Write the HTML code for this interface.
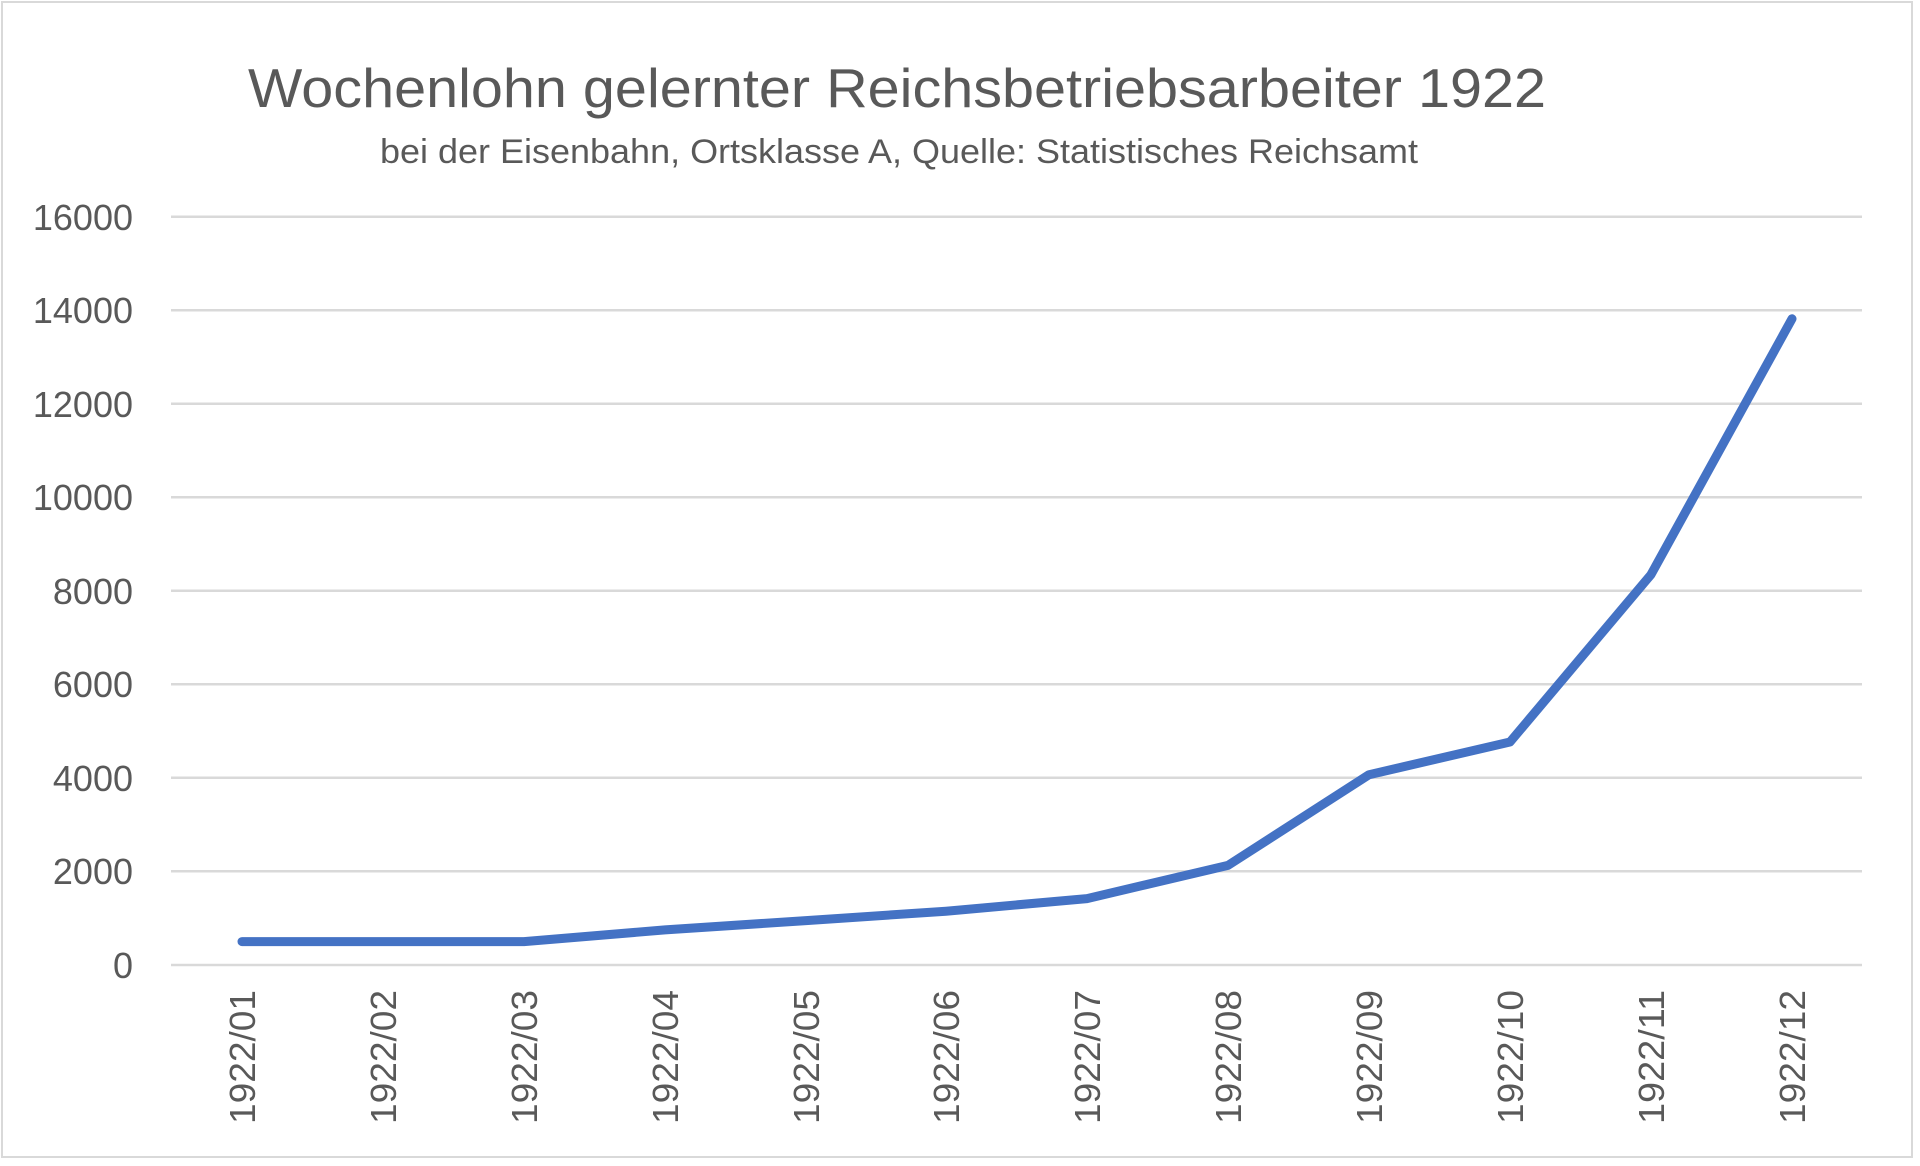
<!DOCTYPE html>
<html><head><meta charset="utf-8"><style>html,body{margin:0;padding:0;background:#fff}svg{display:block}</style></head>
<body>
<svg width="1920" height="1166" viewBox="0 0 1920 1166" xmlns="http://www.w3.org/2000/svg" font-family="Liberation Sans, sans-serif" fill="#595959">
<rect x="2" y="2" width="1910" height="1155" fill="#fff" stroke="#d9d9d9" stroke-width="2"/>
<text x="248" y="107" font-size="55" textLength="1298" lengthAdjust="spacingAndGlyphs">Wochenlohn gelernter Reichsbetriebsarbeiter 1922</text>
<text x="380" y="163" font-size="34" textLength="1038" lengthAdjust="spacingAndGlyphs">bei der Eisenbahn, Ortsklasse A, Quelle: Statistisches Reichsamt</text>
<g stroke="#d9d9d9" stroke-width="2.5">
<line x1="171" x2="1862" y1="216.7" y2="216.7"/><line x1="171" x2="1862" y1="310.2" y2="310.2"/>
<line x1="171" x2="1862" y1="403.7" y2="403.7"/><line x1="171" x2="1862" y1="497.2" y2="497.2"/>
<line x1="171" x2="1862" y1="590.7" y2="590.7"/><line x1="171" x2="1862" y1="684.2" y2="684.2"/>
<line x1="171" x2="1862" y1="777.7" y2="777.7"/><line x1="171" x2="1862" y1="871.2" y2="871.2"/>
<line x1="171" x2="1862" y1="965" y2="965"/>
</g>
<g font-size="36" text-anchor="end">
<text x="133" y="230">16000</text><text x="133" y="323">14000</text><text x="133" y="417">12000</text>
<text x="133" y="510">10000</text><text x="133" y="604">8000</text><text x="133" y="697">6000</text>
<text x="133" y="791">4000</text><text x="133" y="884">2000</text><text x="133" y="978">0</text>
</g>
<g font-size="36" text-anchor="end">
<text transform="translate(255,990) rotate(-90)" textLength="134" lengthAdjust="spacingAndGlyphs">1922/01</text>
<text transform="translate(396,990) rotate(-90)" textLength="134" lengthAdjust="spacingAndGlyphs">1922/02</text>
<text transform="translate(537,990) rotate(-90)" textLength="134" lengthAdjust="spacingAndGlyphs">1922/03</text>
<text transform="translate(678,990) rotate(-90)" textLength="134" lengthAdjust="spacingAndGlyphs">1922/04</text>
<text transform="translate(819,990) rotate(-90)" textLength="134" lengthAdjust="spacingAndGlyphs">1922/05</text>
<text transform="translate(959,990) rotate(-90)" textLength="134" lengthAdjust="spacingAndGlyphs">1922/06</text>
<text transform="translate(1100,990) rotate(-90)" textLength="134" lengthAdjust="spacingAndGlyphs">1922/07</text>
<text transform="translate(1241,990) rotate(-90)" textLength="134" lengthAdjust="spacingAndGlyphs">1922/08</text>
<text transform="translate(1382,990) rotate(-90)" textLength="134" lengthAdjust="spacingAndGlyphs">1922/09</text>
<text transform="translate(1523,990) rotate(-90)" textLength="134" lengthAdjust="spacingAndGlyphs">1922/10</text>
<text transform="translate(1664,990) rotate(-90)" textLength="134" lengthAdjust="spacingAndGlyphs">1922/11</text>
<text transform="translate(1805,990) rotate(-90)" textLength="134" lengthAdjust="spacingAndGlyphs">1922/12</text>
</g>
<polyline fill="none" stroke="#4472c4" stroke-width="9" stroke-linejoin="round" stroke-linecap="round"
points="242,941.6 383,941.6 524,941.6 665,929.9 806,920.6 946,911.2 1087,898.6 1228,865.4 1369,774.7 1510,742.0 1651,574.6 1792,318.8"/>
</svg>
</body></html>
